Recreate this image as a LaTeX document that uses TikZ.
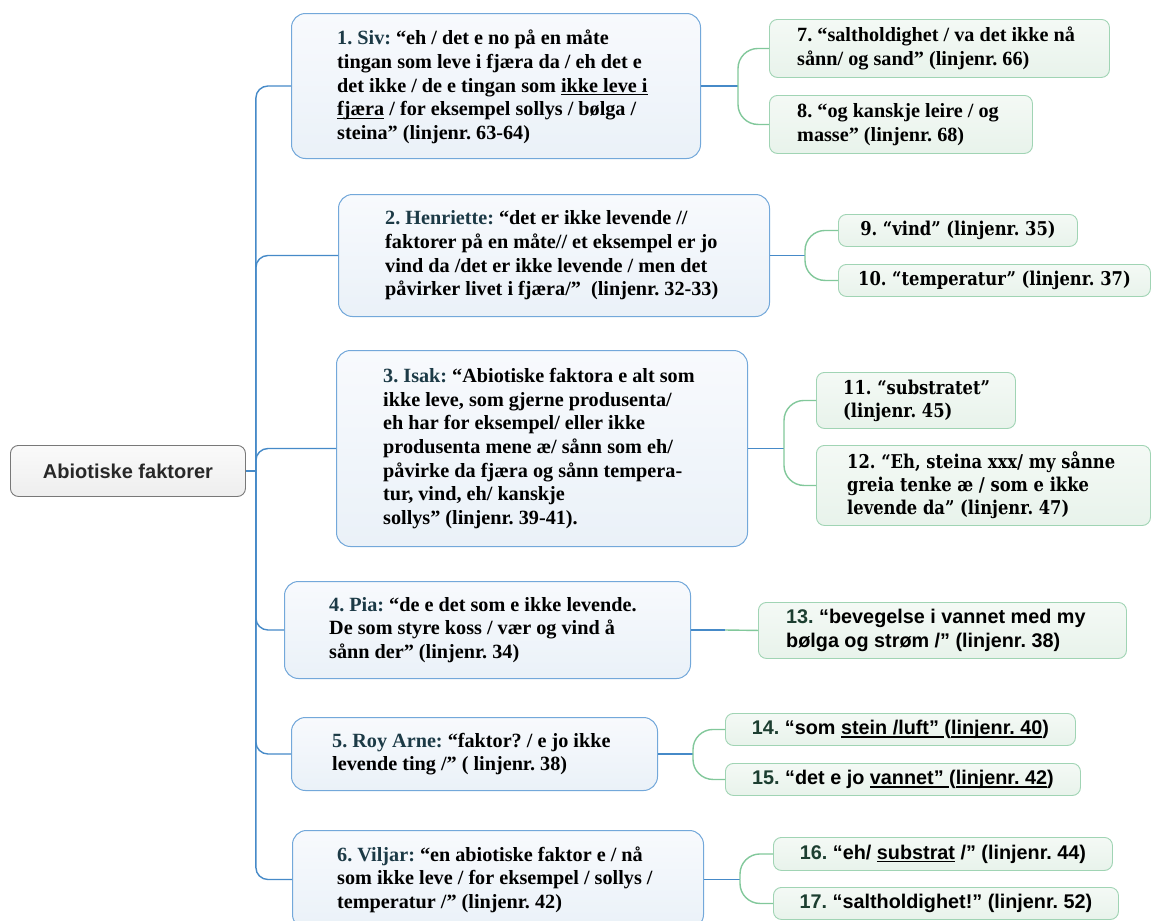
\documentclass[tikz,border=0pt]{standalone}
\usepackage{fontspec}
\setmainfont{Liberation Serif}
\newfontfamily\sansf{Liberation Sans}
\newfontfamily\cambf[FakeStretch=0.86]{DejaVu Serif}
\newcommand{\myul}[1]{\setbox0\hbox{#1}\rlap{\vrule height -1.8pt depth 3.1pt width \wd0\relax}\box0\relax}
\definecolor{trunkc}{RGB}{70,138,200}
\definecolor{bborder}{RGB}{115,168,218}
\definecolor{gborder}{RGB}{160,212,180}
\definecolor{glinec}{RGB}{130,200,155}
\definecolor{namec}{RGB}{28,58,70}
\definecolor{numc}{RGB}{28,62,48}
\definecolor{rootb}{RGB}{120,120,120}
\tikzset{
  bbox/.style={draw=bborder, line width=1pt, rounded corners=14pt, top color={rgb,255:red,248;green,250;blue,253}, bottom color={rgb,255:red,234;green,241;blue,248}, anchor=north west, inner sep=0pt},
  gbox/.style={draw=gborder, line width=0.9pt, rounded corners=8pt, top color={rgb,255:red,244;green,249;blue,245}, bottom color={rgb,255:red,232;green,243;blue,235}, anchor=north west, inner sep=0pt},
  rootbox/.style={draw=rootb, line width=0.9pt, rounded corners=8pt, top color={rgb,255:red,250;green,250;blue,250}, bottom color={rgb,255:red,238;green,238;blue,238}, anchor=north west, inner sep=0pt, font=\sansf\bfseries\fontsize{20}{24}\selectfont, text={rgb,255:red,40;green,40;blue,40}},
  btext/.style={anchor=west, align=left, inner sep=0pt, font=\frenchspacing\bfseries\fontsize{20.2}{23.6}\selectfont},
  ctext/.style={anchor=west, align=left, inner sep=0pt, font=\frenchspacing\cambf\bfseries\fontsize{19}{23}\selectfont},
  stext/.style={anchor=west, align=left, inner sep=0pt, font=\frenchspacing\sansf\bfseries\fontsize{19.8}{24}\selectfont},
  trunkline/.style={draw=trunkc, line width=1.4pt, rounded corners=12pt},
  bstub/.style={draw=trunkc, line width=1.4pt},
  gline/.style={draw=glinec, line width=1.4pt, rounded corners=20pt},
}
\begin{document}
\begin{tikzpicture}[x=1pt,y=-1pt]
\fill[white] (0,0) rectangle (1152,921);
\useasboundingbox (0,0) rectangle (1152,921);

% root
\node[rootbox, minimum width=235pt, minimum height=51pt] (root) at (10,445) {Abiotiske faktorer};

% blue boxes
\node[bbox, minimum width=409pt, minimum height=145pt] (b1) at (291,13) {};
\node[bbox, minimum width=431pt, minimum height=122pt] (b2) at (338,194) {};
\node[bbox, minimum width=411pt, minimum height=196pt] (b3) at (336,350) {};
\node[bbox, minimum width=406pt, minimum height=97pt] (b4) at (284,581) {};
\node[bbox, minimum width=366pt, minimum height=73pt] (b5) at (291,717) {};
\node[bbox, minimum width=411pt, minimum height=98pt] (b6) at (292,830) {};

\node[btext] (t1) at ([xshift=46pt,yshift=-1pt]b1.west) {{\color{namec}1. Siv:} “eh / det e no på en måte\\ tingan som leve i fjæra da / eh det e\\ det ikke / de e tingan som \myul{ikke leve i}\\ \myul{fjæra} / for eksempel sollys / bølga /\\ steina” (linjenr. 63-64)};
\node[btext] (t2) at ([xshift=47pt]b2.west) {{\color{namec}2. Henriette:} “det er ikke levende //\\ faktorer på en måte// et eksempel er jo\\ vind da /det er ikke levende / men det\\ påvirker livet i fjæra/”~~(linjenr. 32-33)};
\node[btext] (t3) at ([xshift=47pt]b3.west) {{\color{namec}3. Isak:} “Abiotiske faktora e alt som\\ ikke leve, som gjerne produsenta/\\ eh har for eksempel/ eller ikke\\ produsenta mene æ/ sånn som eh/\\ påvirke da fjæra og sånn tempera-\\ tur, vind, eh/ kanskje\\ sollys” (linjenr. 39-41).};
\node[btext] (t4) at ([xshift=45pt]b4.west) {{\color{namec}4. Pia:} “de e det som e ikke levende.\\ De som styre koss / vær og vind å\\ sånn der” (linjenr. 34)};
\node[btext] (t5) at ([xshift=41pt]b5.west) {{\color{namec}5. Roy Arne:} “faktor? / e jo ikke\\ levende ting /” ( linjenr. 38)};
\node[btext] (t6) at ([xshift=45pt]b6.west) {{\color{namec}6. Viljar:} “en abiotiske faktor e / nå\\ som ikke leve / for eksempel / sollys /\\ temperatur /” (linjenr. 42)};

% green boxes
\node[gbox, minimum width=340pt, minimum height=58pt] (g7) at (769,19) {};
\node[gbox, minimum width=263pt, minimum height=58pt] (g8) at (769,95) {};
\node[gbox, minimum width=239pt, minimum height=32pt] (g9) at (838,214) {};
\node[gbox, minimum width=312pt, minimum height=32pt] (g10) at (838,264) {};
\node[gbox, minimum width=199pt, minimum height=56pt] (g11) at (816,372) {};
\node[gbox, minimum width=334pt, minimum height=80pt] (g12) at (816,445) {};
\node[gbox, minimum width=368pt, minimum height=56pt] (g13) at (758,602) {};
\node[gbox, minimum width=350pt, minimum height=32pt] (g14) at (725,713) {};
\node[gbox, minimum width=355pt, minimum height=32pt] (g15) at (725,763) {};
\node[gbox, minimum width=339pt, minimum height=33pt] (g16) at (773,837) {};
\node[gbox, minimum width=345pt, minimum height=32pt] (g17) at (773,887) {};

\node[btext] (t7) at ([xshift=28pt]g7.west) {7. “saltholdighet / va det ikke nå\\ sånn/ og sand” (linjenr. 66)};
\node[btext] (t8) at ([xshift=28pt]g8.west) {8. “og kanskje leire / og\\ masse” (linjenr. 68)};
\node[ctext, anchor=center] (t9) at (g9.center) {9. “vind” (linjenr. 35)};
\node[ctext, anchor=center] (t10) at (g10.center) {10. “temperatur” (linjenr. 37)};
\node[ctext] (t11) at ([xshift=27pt]g11.west) {11. “substratet”\\ (linjenr. 45)};
\node[ctext] (t12) at ([xshift=31pt]g12.west) {12. “Eh, steina xxx/ my sånne\\ greia tenke æ / som e ikke\\ levende da” (linjenr. 47)};
\node[stext] (t13) at ([xshift=28pt]g13.west) {{\color{numc}13.} “bevegelse i vannet med my\\ bølga og strøm /” (linjenr. 38)};
\node[stext, anchor=center] (t14) at (g14.center) {{\color{numc}14.} “som \myul{stein /luft” }(\myul{linjenr. 40})};
\node[stext, anchor=center] (t15) at (g15.center) {{\color{numc}15.} “det e jo \myul{vannet” }(\myul{linjenr. 42})};
\node[stext, anchor=center] (t16) at (g16.center) {{\color{numc}16.} “eh/ \myul{substrat} /” (linjenr. 44)};
\node[stext, anchor=center] (t17) at (g17.center) {{\color{numc}17.} “saltholdighet!” (linjenr. 52)};

% trunk connectors
\coordinate (jr) at ([xshift=10pt]root.east);
\draw[bstub] (root.east) -- (jr);
\foreach \b in {b1,b2,b3,b4,b5,b6} {
  \draw[trunkline] (jr) |- (\b.west);
}

% right connectors
\coordinate (j1) at ([xshift=37pt]b1.east);
\coordinate (j2) at ([xshift=35pt]b2.east);
\coordinate (j3) at ([xshift=36pt]b3.east);
\coordinate (j4) at ([xshift=34pt]b4.east);
\coordinate (j5) at ([xshift=35pt]b5.east);
\coordinate (j6) at ([xshift=36pt]b6.east);
\draw[bstub] (b1.east) -- (j1);
\draw[bstub] (b2.east) -- (j2);
\draw[bstub] (b3.east) -- (j3);
\draw[bstub] (b4.east) -- (j4);
\draw[bstub] (b5.east) -- (j5);
\draw[bstub] (b6.east) -- (j6);
\draw[gline] (j1) |- (g7.west);
\draw[gline] (j1) |- (g8.west);
\draw[gline] (j2) |- (g9.west);
\draw[gline] (j2) |- (g10.west);
\draw[gline] (j3) |- (g11.west);
\draw[gline] (j3) |- (g12.west);
\draw[gline] (j4) -- (g13.west);
\draw[gline] (j5) |- (g14.west);
\draw[gline] (j5) |- (g15.west);
\draw[gline] (j6) |- (g16.west);
\draw[gline] (j6) |- (g17.west);
\end{tikzpicture}
\end{document}
